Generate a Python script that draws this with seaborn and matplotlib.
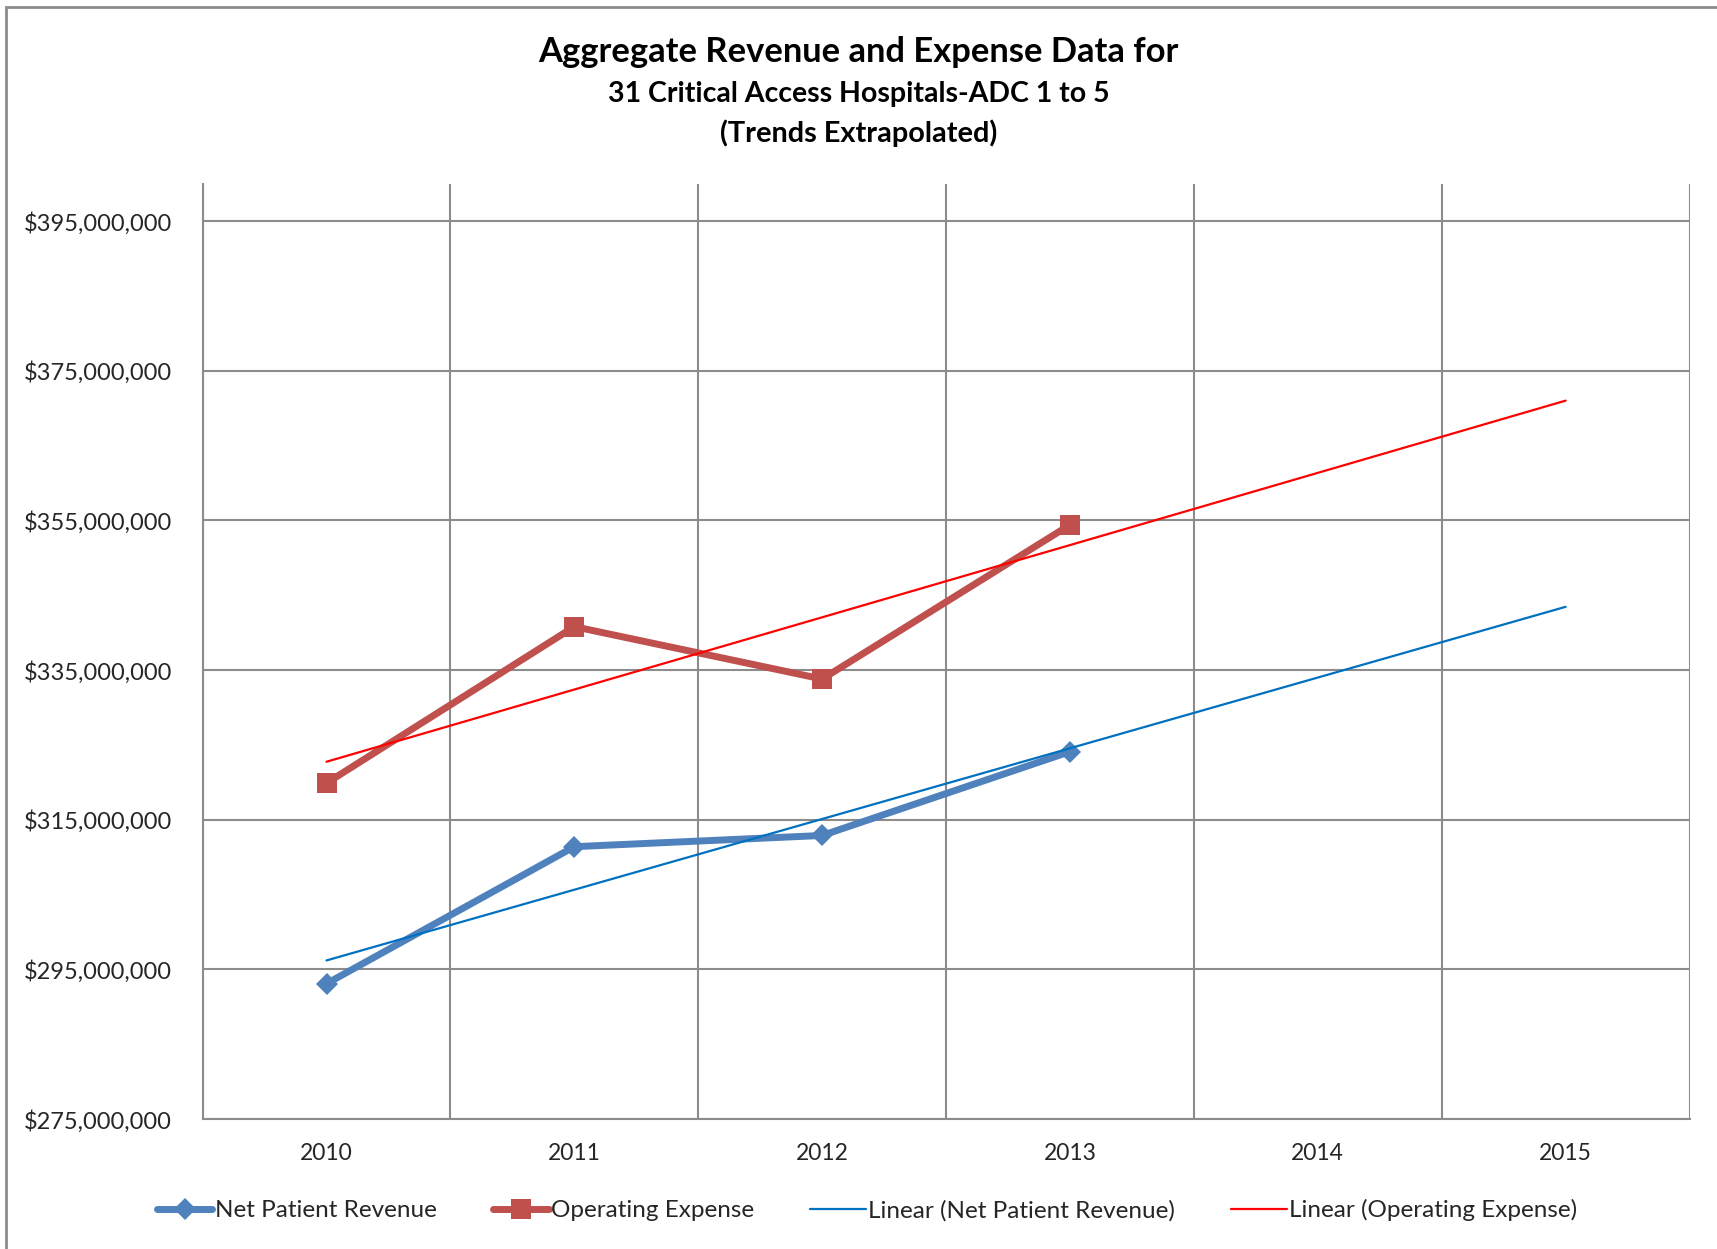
import numpy as np
import pandas as pd
import matplotlib
matplotlib.use('Agg')
import matplotlib.pyplot as plt
import seaborn as sns
from matplotlib.ticker import FuncFormatter, FixedLocator

# --- DATA ---
years = ['2010', '2011', '2012', '2013', '2014', '2015']
data_years = ['2010', '2011', '2012', '2013']
net_patient_revenue = [293.1e6, 311.4e6, 312.9e6, 324.1e6]
operating_expense = [319.9e6, 340.8e6, 333.8e6, 354.4e6]
y_ticks = [275e6, 295e6, 315e6, 335e6, 355e6, 375e6, 395e6]

sns.set_style('white')
plt.rcParams['font.family'] = ['Lato', 'DejaVu Sans']

fig = plt.figure(figsize=(17.17, 12.49), dpi=100)
ax = fig.add_axes([0.118, 0.104, 0.866, 0.749])

x_data = np.arange(len(data_years))
x_all = np.arange(len(years))

# Excel-style linear trendlines, extended to 2015
fit_npr = np.polyfit(x_data, net_patient_revenue, 1)
fit_opx = np.polyfit(x_data, operating_expense, 1)
trend_npr = np.polyval(fit_npr, x_all)
trend_opx = np.polyval(fit_opx, x_all)

sns.lineplot(x=x_data, y=net_patient_revenue, ax=ax, color='#4F81BD', lw=5,
             marker='D', markersize=11, markeredgewidth=0, label='Net Patient Revenue', zorder=4)
sns.lineplot(x=x_data, y=operating_expense, ax=ax, color='#C0504D', lw=5,
             marker='s', markersize=15, markeredgewidth=0, label='Operating Expense', zorder=4)
sns.lineplot(x=x_all, y=trend_npr, ax=ax, color='#0070C0', lw=1.6,
             label='Linear (Net Patient Revenue)', zorder=5)
sns.lineplot(x=x_all, y=trend_opx, ax=ax, color='#FF0000', lw=1.6,
             label='Linear (Operating Expense)', zorder=5)

ax.set_xlim(-0.5, 5.5)
ax.set_ylim(275e6, 400e6)
ax.set_xticks(x_all)
ax.set_xticklabels(years, fontsize=16.5)
ax.xaxis.set_minor_locator(FixedLocator(np.arange(-0.5, 6.0, 1.0)))
ax.set_yticks(y_ticks)
ax.yaxis.set_major_formatter(FuncFormatter(lambda v, p: '${:,.0f}'.format(v)))
ax.tick_params(axis='y', labelsize=17, length=0, pad=22)
ax.tick_params(axis='x', which='both', length=0, pad=17)

ax.grid(False)
ax.yaxis.grid(True, color='#8c8c8c', lw=1.5)
ax.xaxis.grid(True, which='minor', color='#8c8c8c', lw=1.5)
for side in ['top', 'right']:
    ax.spines[side].set_visible(False)
for side in ['left', 'bottom']:
    ax.spines[side].set_color('#8c8c8c')
    ax.spines[side].set_linewidth(1.5)
ax.set_xlabel('')
ax.set_ylabel('')

ax.get_legend().remove()
handles, labels = ax.get_legend_handles_labels()
fig.legend(handles, labels, loc='center', bbox_to_anchor=(0.505, 0.031), ncol=4,
           frameon=False, fontsize=17.5, handlelength=2.3, handletextpad=0.1,
           columnspacing=2.3)

# titles
fig.text(0.5, 0.958, 'Aggregate Revenue and Expense Data for', ha='center', va='center',
         fontsize=24.8, fontweight='bold', color='black')
fig.text(0.5, 0.9245, '31 Critical Access Hospitals-ADC 1 to 5', ha='center', va='center',
         fontsize=20.5, fontweight='bold', color='black')
fig.text(0.5, 0.8935, '(Trends Extrapolated)', ha='center', va='center',
         fontsize=20.8, fontweight='bold', color='black')

# outer chart border (cropped on right and bottom)
fig.add_artist(plt.Rectangle((0.0035, -0.1), 1.2, 1.094, transform=fig.transFigure,
                             fill=False, edgecolor='#8c8c8c', lw=2))

fig.savefig('out.png', dpi=100)
